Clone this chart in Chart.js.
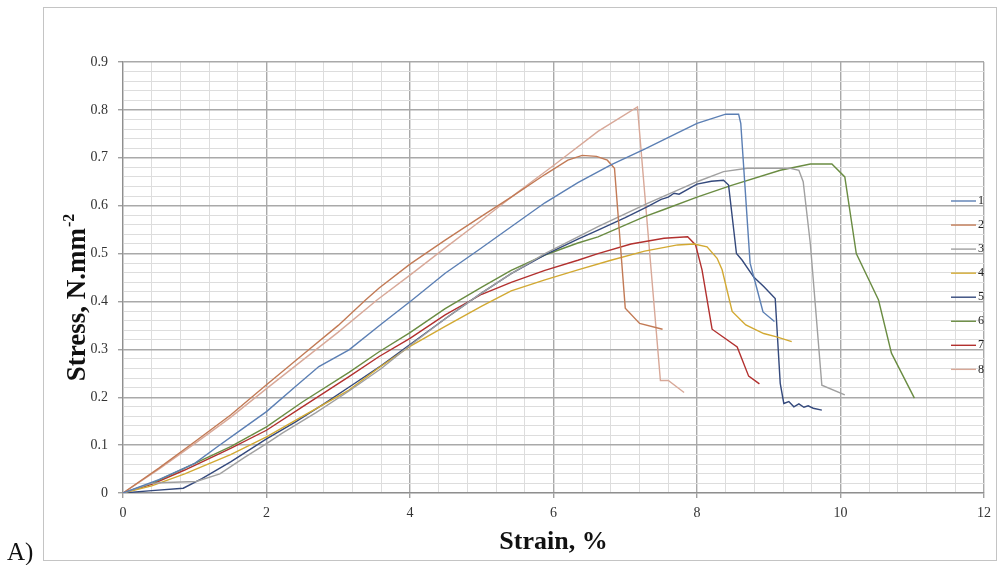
<!DOCTYPE html>
<html><head><meta charset="utf-8">
<script src="https://cdn.jsdelivr.net/npm/chart.js@4.4.0/dist/chart.umd.min.js"></script>
<style>html,body{margin:0;padding:0;background:#fff;}canvas{display:block;}</style>
</head><body>
<canvas id="c" width="998" height="565"></canvas>
<script>
// ---- data ----
const seriesLabels = ['1','2','3','4','5','6','7','8'];
const xTickLabels = [0, 2, 4, 6, 8, 10, 12];
const yTickLabels = ['0','0.1','0.2','0.3','0.4','0.5','0.6','0.7','0.8','0.9'];

const strain1 = [0,0.5,1.0,1.32,1.6,2.0,2.4,2.73,3.15,3.61,4.03,4.49,4.95,5.41,5.88,6.34,6.8,7.27,7.73,8.0,8.4,8.58,8.61,8.74,8.84,8.92,9.08];
const stress1 = [0,0.028,0.062,0.097,0.127,0.170,0.222,0.264,0.299,0.354,0.403,0.459,0.507,0.556,0.606,0.648,0.685,0.718,0.752,0.772,0.791,0.791,0.772,0.48,0.424,0.378,0.358];

const strain2 = [0,0.5,1.0,1.5,2.0,2.5,3.0,3.38,3.57,4.0,4.49,5.0,5.41,5.88,6.2,6.4,6.6,6.75,6.85,7.0,7.2,7.52];
const stress2 = [0,0.052,0.107,0.163,0.226,0.288,0.350,0.403,0.428,0.478,0.528,0.578,0.618,0.665,0.695,0.705,0.703,0.695,0.678,0.386,0.354,0.342];

const strain3 = [0,0.39,0.6,1.02,1.35,1.7,2.0,2.22,2.69,3.15,3.6,4.0,4.5,5.0,5.41,5.88,6.34,6.62,7.31,8.0,8.37,8.7,9.3,9.42,9.48,9.58,9.74,10.06];
const stress3 = [0,0.02,0.022,0.024,0.04,0.075,0.103,0.125,0.168,0.213,0.26,0.308,0.365,0.418,0.458,0.5,0.535,0.556,0.605,0.65,0.671,0.678,0.678,0.674,0.65,0.52,0.225,0.205];

const strain4 = [0,0.4,0.86,1.5,2.0,2.5,3.15,3.57,4.0,4.49,5.0,5.41,5.88,6.34,6.8,7.27,7.73,7.96,8.14,8.28,8.35,8.49,8.68,8.93,9.11,9.32];
const stress4 = [0,0.015,0.04,0.08,0.117,0.16,0.215,0.262,0.306,0.348,0.39,0.422,0.445,0.466,0.486,0.505,0.518,0.52,0.514,0.49,0.466,0.379,0.351,0.333,0.326,0.316];

const strain5 = [0,0.4,0.84,1.1,1.5,2.0,2.4,2.8,3.2,3.6,4.0,4.5,5.0,5.41,5.88,6.34,6.62,7.0,7.31,7.5,7.6,7.68,7.75,8.0,8.2,8.37,8.44,8.55,8.63,8.79,8.93,9.09,9.16,9.21,9.28,9.35,9.42,9.49,9.55,9.62,9.74];
const stress5 = [0,0.005,0.01,0.03,0.065,0.113,0.148,0.186,0.226,0.266,0.31,0.365,0.418,0.458,0.497,0.53,0.549,0.575,0.598,0.613,0.618,0.626,0.624,0.645,0.651,0.653,0.643,0.5,0.486,0.451,0.431,0.406,0.229,0.187,0.191,0.18,0.186,0.179,0.182,0.177,0.173];

const strain6 = [0,0.4,0.86,1.5,2.0,2.5,3.15,3.57,4.0,4.49,5.0,5.41,5.88,6.34,6.62,7.27,7.54,8.0,8.47,9.16,9.58,9.88,10.06,10.22,10.53,10.71,11.03];
const stress6 = [0,0.02,0.052,0.097,0.138,0.19,0.252,0.295,0.335,0.385,0.43,0.465,0.497,0.522,0.535,0.577,0.592,0.618,0.642,0.674,0.687,0.687,0.66,0.5,0.403,0.292,0.198];

const strain7 = [0,0.4,0.86,1.5,2.0,2.5,3.15,3.57,4.0,4.49,5.0,5.41,5.88,6.34,6.62,7.08,7.54,7.87,7.98,8.07,8.21,8.56,8.72,8.87];
const stress7 = [0,0.018,0.048,0.093,0.131,0.18,0.243,0.285,0.323,0.372,0.415,0.44,0.465,0.486,0.5,0.52,0.532,0.535,0.518,0.466,0.342,0.305,0.244,0.228];

const strain8 = [0,0.5,1.0,1.5,2.0,2.5,3.0,3.54,4.0,4.5,5.0,5.5,6.0,6.62,7.17,7.49,7.6,7.82];
const stress8 = [0,0.05,0.103,0.158,0.218,0.277,0.336,0.403,0.455,0.513,0.57,0.628,0.684,0.755,0.806,0.235,0.235,0.21];

const seriesColors = ['#5b7fb4','#c27a55','#a0a0a0','#d2a932','#34497c','#6a8c42','#b2302e','#d8a898'];

// ---- build chart ----
const strains = [strain1,strain2,strain3,strain4,strain5,strain6,strain7,strain8];
const stresses = [stress1,stress2,stress3,stress4,stress5,stress6,stress7,stress8];
const datasets = seriesLabels.map((lab, i) => ({
  label: lab,
  data: strains[i].map((x, j) => ({x: x, y: stresses[i][j]})),
  borderColor: seriesColors[i],
  backgroundColor: seriesColors[i],
  borderWidth: 1.4,
  showLine: true,
  pointRadius: 0,
  tension: 0,
  fill: false
}));

const near = (a, b) => Math.abs(a - b) < 1e-6;
const isMajorX = v => xTickLabels.some(t => near(t, v));
const yMajorVals = yTickLabels.map(Number);
const isMajorY = v => yMajorVals.some(t => near(t, v));

const SERIF = '"Liberation Serif", "Times New Roman", serif';
Chart.defaults.font.family = SERIF;

const framePlugin = {
  id: 'frame',
  beforeDraw(chart) {
    const ctx = chart.ctx;
    ctx.save();
    ctx.fillStyle = '#ffffff';
    ctx.fillRect(0, 0, chart.width, chart.height);
    ctx.strokeStyle = '#c4c4c4';
    ctx.lineWidth = 1;
    ctx.strokeRect(43.5, 7.5, 953, 553);
    ctx.restore();
  },
  afterDraw(chart) {
    const ctx = chart.ctx;
    ctx.save();
    // panel letter
    ctx.fillStyle = '#111';
    ctx.font = '25px ' + SERIF;
    ctx.textBaseline = 'alphabetic';
    ctx.textAlign = 'left';
    ctx.fillText('A)', 7, 560);
    // y axis title with superscript
    ctx.translate(85, 298);
    ctx.rotate(-Math.PI / 2);
    const main = 'Stress, N.mm';
    const sup = '-2';
    ctx.font = 'bold 27px ' + SERIF;
    const w1 = ctx.measureText(main).width;
    ctx.font = 'bold 16px ' + SERIF;
    const w2 = ctx.measureText(sup).width;
    const start = -(w1 + w2) / 2;
    ctx.fillStyle = '#111';
    ctx.font = 'bold 27px ' + SERIF;
    ctx.fillText(main, start, 0);
    ctx.font = 'bold 16px ' + SERIF;
    ctx.fillText(sup, start + w1 + 1, -11);
    ctx.restore();
  }
};

const legendPlugin = {
  id: 'sideLegend',
  afterDatasetsDraw(chart) {
    const ctx = chart.ctx;
    const area = chart.chartArea;
    ctx.save();
    ctx.font = '12px ' + SERIF;
    ctx.textBaseline = 'middle';
    ctx.textAlign = 'left';
    chart.data.datasets.forEach((ds, i) => {
      const y = area.top + 139 + i * 24.05;
      ctx.strokeStyle = ds.borderColor;
      ctx.lineWidth = 1.4;
      ctx.beginPath();
      ctx.moveTo(area.right - 33, y);
      ctx.lineTo(area.right - 8, y);
      ctx.stroke();
      ctx.fillStyle = '#222';
      ctx.fillText(ds.label, area.right - 6, y);
    });
    ctx.restore();
  }
};

new Chart(document.getElementById('c'), {
  type: 'scatter',
  data: { datasets },
  plugins: [framePlugin, legendPlugin],
  options: {
    responsive: false,
    animation: false,
    events: [],
    layout: { padding: { top: 62, right: 10, left: 0, bottom: 0 } },
    plugins: { legend: { display: false }, tooltip: { enabled: false } },
    scales: {
      x: {
        type: 'linear', min: 0, max: 12,
        afterFit(s) { s.height = 72; },
        ticks: {
          stepSize: 0.4, autoSkip: false, maxRotation: 0, padding: 7,
          color: '#333', font: { size: 14, family: SERIF },
          callback(v) { const m = xTickLabels.find(t => near(t, v)); return m === undefined ? '' : String(m); }
        },
        grid: {
          color: c => (c.tick && isMajorX(c.tick.value)) ? '#a9a9a9' : '#dddddd',
          lineWidth: c => (c.tick && isMajorX(c.tick.value)) ? 1.4 : 1,
          tickColor: c => (c.tick && isMajorX(c.tick.value)) ? '#a0a0a0' : 'rgba(0,0,0,0)',
          tickLength: 5, drawTicks: true
        },
        border: { display: true, color: '#8f8f8f', width: 1.2 },
        title: {
          display: true, text: 'Strain, %', color: '#111',
          font: { size: 26, weight: 'bold', family: SERIF },
          padding: { top: 0, bottom: 7 }
        }
      },
      y: {
        type: 'linear', min: 0, max: 0.9,
        afterFit(s) { s.width = 123; },
        ticks: {
          stepSize: 0.02, autoSkip: false, padding: 10,
          color: '#333', font: { size: 14, family: SERIF },
          callback(v) { const k = yMajorVals.findIndex(t => near(t, v)); return k < 0 ? '' : yTickLabels[k]; }
        },
        grid: {
          color: c => (c.tick && isMajorY(c.tick.value)) ? '#a9a9a9' : '#dddddd',
          lineWidth: c => (c.tick && isMajorY(c.tick.value)) ? 1.4 : 1,
          tickColor: c => (c.tick && isMajorY(c.tick.value)) ? '#a0a0a0' : 'rgba(0,0,0,0)',
          tickLength: 5, drawTicks: true
        },
        border: { display: true, color: '#8f8f8f', width: 1.2 }
      }
    }
  }
});
</script>
</body></html>
